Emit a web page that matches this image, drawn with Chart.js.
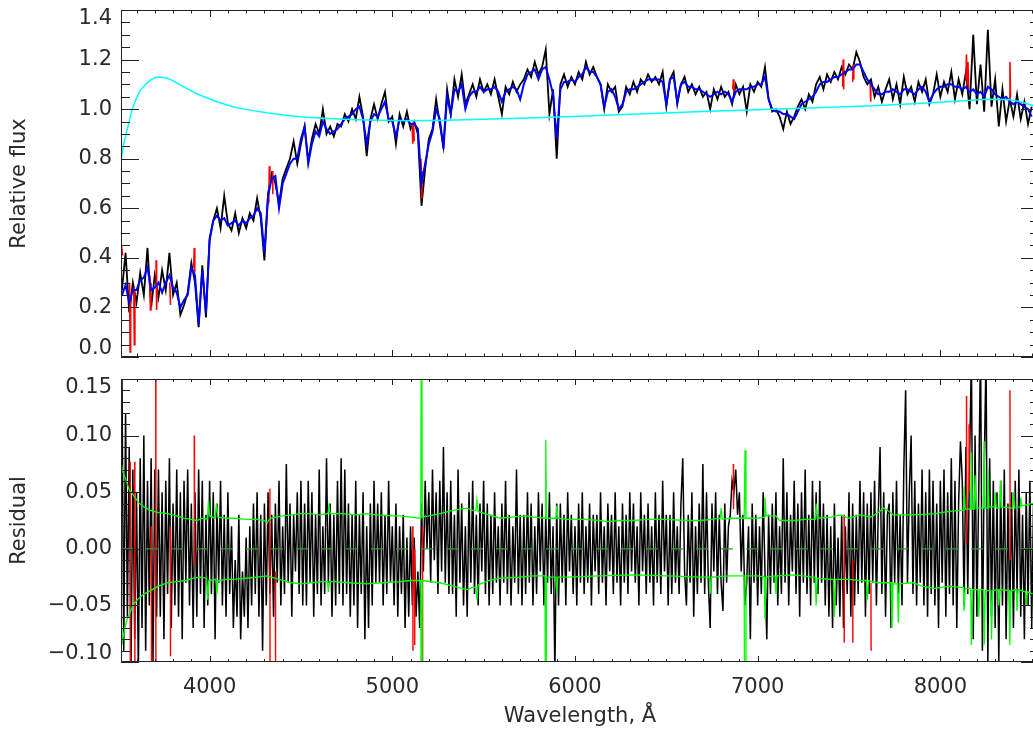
<!DOCTYPE html>
<html>
<head>
<meta charset="utf-8">
<title>Spectrum fit and residuals</title>
<script src="https://cdn.jsdelivr.net/npm/chart.js@4.4.1/dist/chart.umd.min.js"></script>
<style>
  html, body { margin: 0; padding: 0; background: #ffffff; }
  body { width: 1033px; height: 729px; overflow: hidden; position: relative; }
  .panel { position: absolute; left: 0; }
  #topPanel { top: 0; }
  #bottomPanel { top: 369px; }
</style>
</head>
<body>
<div class="panel" id="topPanel"><canvas id="fluxChart" width="1040" height="362"></canvas></div>
<div class="panel" id="bottomPanel"><canvas id="residChart" width="1040" height="360"></canvas></div>
<script>
/* ============================================
   Spectrum fit (top) and residuals (bottom)
   ============================================ */

// Sampling of the tabulated series (Angstrom)
const FLUX_START = 3520, FLUX_STEP = 20;
const RESID_START = 3520, RESID_STEP = 10;

const xRange = [3515, 8540];
const xTickValues = [4000, 5000, 6000, 7000, 8000];
const fluxRange = [0, 1.4];
const residRange = [-0.10, 0.15];

// Observed spectrum (black), every 20 A from 3520
const observedFlux = [
    0.27, 0.42, 0.18, 0.30, 0.22, 0.34, 0.25, 0.44, 0.20, 0.33,
    0.24, 0.35, 0.27, 0.42, 0.25, 0.30, 0.17, 0.21, 0.26, 0.38,
    0.30, 0.12, 0.37, 0.16, 0.48, 0.55, 0.60, 0.52, 0.65, 0.54,
    0.51, 0.58, 0.50, 0.56, 0.52, 0.58, 0.55, 0.64, 0.56, 0.39,
    0.66, 0.74, 0.70, 0.62, 0.72, 0.76, 0.80, 0.87, 0.78, 0.86,
    0.93, 0.79, 0.88, 0.94, 0.90, 1.00, 0.90, 0.93, 0.89, 0.94,
    0.93, 0.98, 0.95, 1.00, 0.96, 1.05, 0.97, 0.81, 0.96, 1.02,
    0.96, 1.02, 1.07, 0.95, 0.97, 0.86, 0.98, 0.93, 0.99, 0.92,
    0.95, 0.90, 0.61, 0.76, 0.88, 0.92, 1.04, 0.94, 0.85, 1.08,
    0.98, 1.12, 1.05, 1.14, 1.02, 1.06, 1.10, 1.05, 1.12, 1.07,
    1.10, 1.06, 1.12, 1.05, 0.98, 1.09, 1.06, 1.11, 1.07, 1.10,
    1.12, 1.16, 1.13, 1.19, 1.14, 1.17, 1.24, 0.98, 1.08, 0.80,
    1.10, 1.14, 1.09, 1.13, 1.10, 1.15, 1.12, 1.19, 1.14, 1.17,
    1.13, 1.10, 1.00, 1.10, 1.07, 1.09, 0.99, 1.01, 1.09, 1.06,
    1.11, 1.07, 1.12, 1.10, 1.14, 1.11, 1.13, 1.10, 1.15, 1.01,
    1.12, 1.15, 1.02, 1.10, 1.13, 1.07, 1.10, 1.06, 1.09, 1.05,
    1.07, 1.00, 1.08, 1.04, 1.09, 1.05, 1.07, 1.02, 1.10, 1.06,
    1.09, 0.99, 1.10, 1.07, 1.11, 1.09, 1.17, 1.04, 0.99, 1.00,
    0.97, 0.92, 0.99, 0.94, 0.97, 1.01, 1.04, 1.00, 1.06, 1.03,
    1.10, 1.13, 1.08, 1.14, 1.11, 1.15, 1.12, 1.17, 1.14, 1.18,
    1.16, 1.23, 1.19, 1.13, 1.10, 1.12, 1.05, 1.09, 1.03, 1.08,
    1.12, 1.04, 1.10, 1.02, 1.13, 1.06, 1.09, 1.03, 1.11, 1.07,
    1.12, 1.02, 1.06, 1.14, 1.05, 1.11, 1.07, 1.15, 1.04, 1.12,
    1.06, 1.15, 1.00, 1.30, 1.02, 1.18, 0.99, 1.32, 1.01, 1.12,
    0.93, 1.08, 0.95, 1.04, 0.97, 1.06, 0.96, 1.03, 0.94, 1.01
];

// Best-fit model (blue), same sampling
const modelFlux = [
    0.25, 0.29, 0.22, 0.27, 0.27, 0.31, 0.32, 0.36, 0.27, 0.28,
    0.30, 0.26, 0.30, 0.33, 0.28, 0.26, 0.20, 0.23, 0.25, 0.36,
    0.33, 0.13, 0.35, 0.18, 0.47, 0.55, 0.57, 0.55, 0.56, 0.53,
    0.54, 0.55, 0.53, 0.55, 0.54, 0.56, 0.57, 0.60, 0.58, 0.42,
    0.65, 0.72, 0.73, 0.60, 0.70, 0.74, 0.78, 0.80, 0.80, 0.88,
    0.93, 0.78, 0.86, 0.91, 0.89, 0.95, 0.92, 0.90, 0.91, 0.92,
    0.94, 0.96, 0.97, 0.98, 1.00, 1.01, 0.96, 0.86, 0.95, 0.98,
    0.97, 1.00, 1.03, 0.96, 0.95, 0.89, 0.96, 0.95, 0.96, 0.94,
    0.94, 0.92, 0.70, 0.78, 0.86, 0.91, 1.00, 0.96, 0.84, 1.05,
    0.98, 1.08, 1.07, 1.10, 1.00, 1.05, 1.07, 1.07, 1.09, 1.07,
    1.08, 1.08, 1.09, 1.07, 1.03, 1.07, 1.08, 1.09, 1.08, 1.04,
    1.10, 1.14, 1.15, 1.16, 1.12, 1.16, 1.17, 1.12, 1.06, 0.88,
    1.08, 1.11, 1.11, 1.12, 1.11, 1.13, 1.14, 1.17, 1.15, 1.15,
    1.13, 1.10, 1.01, 1.07, 1.08, 1.05, 1.00, 1.02, 1.07, 1.08,
    1.08, 1.09, 1.10, 1.11, 1.12, 1.12, 1.12, 1.12, 1.11, 1.02,
    1.12, 1.13, 1.03, 1.10, 1.11, 1.09, 1.09, 1.08, 1.08, 1.07,
    1.06, 1.05, 1.06, 1.07, 1.06, 1.07, 1.06, 1.03, 1.07, 1.08,
    1.08, 1.08, 1.09, 1.09, 1.10, 1.10, 1.13, 1.04, 1.00, 0.99,
    0.99, 0.98, 0.98, 0.97, 0.96, 0.99, 1.02, 1.03, 1.04, 1.05,
    1.07, 1.10, 1.11, 1.11, 1.12, 1.13, 1.13, 1.14, 1.15, 1.16,
    1.16, 1.18, 1.18, 1.15, 1.12, 1.10, 1.08, 1.06, 1.06, 1.07,
    1.07, 1.08, 1.07, 1.06, 1.08, 1.08, 1.07, 1.06, 1.08, 1.09,
    1.07, 1.03, 1.06, 1.08, 1.09, 1.09, 1.10, 1.10, 1.09, 1.09,
    1.08, 1.09, 1.07, 1.08, 1.06, 1.07, 1.05, 1.09, 1.08, 1.06,
    1.05, 1.04, 1.05, 1.03, 1.02, 1.03, 1.02, 1.01, 1.00, 0.97
];

// Multiplicative continuum (cyan), [wavelength, value]
const continuumCurve = [
    [3515, 0.79], [3530, 0.86], [3548, 0.915], [3575, 0.996], [3600, 1.045],
    [3621, 1.076], [3650, 1.10], [3676, 1.117], [3700, 1.127], [3721, 1.13],
    [3750, 1.128], [3785, 1.12], [3820, 1.106], [3858, 1.09], [3900, 1.074],
    [3949, 1.056], [4000, 1.042], [4040, 1.03], [4131, 1.009], [4223, 0.996],
    [4314, 0.985], [4405, 0.976], [4496, 0.969], [4600, 0.964], [4700, 0.960],
    [4861, 0.956], [5000, 0.954], [5135, 0.953], [5300, 0.955], [5500, 0.959],
    [5700, 0.963], [5955, 0.969], [6200, 0.976], [6450, 0.983], [6700, 0.990],
    [6958, 0.997], [7200, 1.003], [7400, 1.008], [7596, 1.013], [7800, 1.020],
    [8000, 1.028], [8150, 1.035], [8234, 1.039], [8300, 1.040], [8380, 1.038],
    [8440, 1.030], [8505, 1.015], [8540, 1.005]
];

// Masked (rejected) pixels of the spectrum (red), short segments
const maskedFlux = [
    [[3516, 0.46], [3524, 0.41]],
    [[3562, 0.30], [3565, 0.02], [3568, 0.24]],
    [[3585, 0.28], [3588, 0.05], [3591, 0.26]],
    [[3673, 0.33], [3676, 0.19], [3679, 0.30]],
    [[3707, 0.39], [3710, 0.19], [3713, 0.28]],
    [[3782, 0.30], [3786, 0.21]],
    [[3913, 0.36], [3916, 0.44], [3919, 0.34]],
    [[4324, 0.62], [4327, 0.77], [4330, 0.70]],
    [[4343, 0.66], [4346, 0.75]],
    [[5109, 0.94], [5112, 0.86], [5116, 0.95], [5120, 0.87]],
    [[5157, 0.80], [5161, 0.64], [5165, 0.75]],
    [[6864, 1.08], [6867, 1.12], [6870, 1.07]],
    [[7465, 1.09], [7468, 1.20], [7471, 1.08]],
    [[7520, 1.11], [7523, 1.18], [7526, 1.12]],
    [[7616, 1.10], [7619, 1.03]],
    [[8140, 1.12], [8143, 1.22], [8147, 1.10]],
    [[8151, 1.19], [8155, 1.08]],
    [[8378, 1.04], [8381, 1.19], [8384, 1.05]]
];

// Residual (black), every 10 A from 3520
const residual = [
    0.16, -0.09, 0.12, -0.06, 0.09, -0.10, 0.07, -0.08, 0.05, -0.11, 0.08, -0.07, 0.10, -0.09, 0.06, -0.05, 0.08, -0.10, 0.07, -0.06,
    0.07, -0.06, 0.05, -0.08, 0.06, -0.04, 0.08, -0.07, 0.04, -0.05, 0.07, -0.06, 0.05, -0.08, 0.06, -0.03, 0.07, -0.05, 0.04, -0.07,
    0.05, -0.06, 0.07, -0.04, 0.06, -0.07, 0.03, -0.05, 0.06, -0.04, 0.05, -0.08, 0.04, -0.03, 0.06, -0.05, 0.03, -0.06, 0.05, -0.04,
    0.02, -0.07, -0.01, -0.06, 0.03, -0.08, -0.02, -0.06, 0.01, -0.07, 0.02, -0.05, 0.04, -0.04, 0.05, -0.06, 0.03, -0.09, 0.04, -0.05,
    0.05, -0.04, 0.03, -0.06, 0.04, -0.03, 0.06, -0.05, 0.02, -0.04, 0.075, -0.03, 0.04, -0.06, 0.03, -0.02, 0.05, -0.04, 0.06, -0.05,
    0.04, -0.05, 0.06, -0.03, 0.05, -0.06, 0.03, -0.04, 0.07, -0.05, 0.02, -0.04, 0.08, -0.03, 0.04, -0.06, 0.03, -0.05, 0.06, -0.04,
    0.08, -0.05, 0.07, -0.04, 0.04, -0.06, 0.03, -0.05, 0.06, -0.07, 0.03, -0.04, 0.05, -0.08, 0.02, -0.07, 0.04, -0.05, 0.06, -0.03,
    0.04, -0.03, 0.05, -0.05, 0.03, -0.04, 0.06, -0.03, 0.02, -0.05, 0.04, -0.06, 0.02, -0.04, 0.03, -0.07, 0.01, -0.06, 0.02, -0.05,
    0.01, -0.06, -0.02, -0.07, 0.04, -0.02, 0.06, 0.00, 0.05, -0.03, 0.07, -0.01, 0.05, -0.04, 0.06, -0.02, 0.09, -0.03, 0.05, -0.04,
    0.06, -0.04, 0.03, -0.06, 0.07, -0.03, 0.04, -0.05, 0.02, -0.06, 0.05, -0.03, 0.06, -0.04, 0.03, -0.05, 0.04, -0.02, 0.06, -0.04,
    0.04, -0.05, 0.03, -0.04, 0.05, -0.03, 0.02, -0.05, 0.04, -0.03, 0.06, -0.04, 0.03, -0.05, 0.02, -0.03, 0.07, -0.04, 0.03, -0.05,
    0.03, -0.04, 0.05, -0.03, 0.04, -0.05, 0.02, -0.04, 0.05, -0.02, 0.04, -0.05, 0.03, -0.03, 0.05, -0.04, 0.02, -0.11, 0.04, -0.05,
    0.04, -0.03, 0.03, -0.05, 0.05, -0.02, 0.03, -0.04, 0.02, -0.05, 0.04, -0.03, 0.05, -0.04, 0.02, -0.03, 0.04, -0.05, 0.03, -0.02,
    0.03, -0.04, 0.05, -0.03, 0.02, -0.05, 0.04, -0.02, 0.03, -0.04, 0.05, -0.03, 0.02, -0.05, 0.04, -0.03, 0.03, -0.04, 0.05, -0.02,
    0.04, -0.03, 0.02, -0.05, 0.05, -0.02, 0.03, -0.04, 0.04, -0.03, 0.02, -0.05, 0.05, -0.03, 0.03, -0.04, 0.06, -0.02, 0.03, -0.05,
    0.03, -0.04, 0.05, -0.03, 0.02, -0.04, 0.04, 0.08, -0.02, -0.05, 0.03, -0.03, 0.05, -0.06, 0.02, -0.04, 0.04, -0.03, 0.075, -0.04,
    0.05, -0.03, -0.07, 0.04, -0.02, 0.05, -0.04, 0.03, -0.03, -0.055, 0.04, -0.03, 0.02, 0.03, 0.06, 0.05, 0.07, 0.03, 0.05, -0.02,
    0.03, -0.05, -0.03, 0.02, -0.08, 0.04, -0.03, 0.03, -0.05, 0.02, -0.04, 0.05, -0.02, -0.08, 0.03, -0.04, 0.04, -0.03, 0.05, -0.05,
    0.02, -0.04, 0.08, -0.03, 0.05, -0.05, 0.03, -0.02, 0.06, -0.04, 0.04, -0.06, 0.05, -0.03, 0.07, -0.04, 0.03, -0.05, 0.06, -0.03,
    0.05, -0.04, 0.06, -0.03, 0.04, -0.05, 0.03, -0.06, 0.02, -0.07, 0.04, -0.05, 0.01, -0.06, 0.03, -0.07, 0.02, -0.04, 0.05, -0.06,
    0.04, -0.05, 0.03, -0.04, 0.06, -0.03, 0.05, -0.06, 0.04, -0.04, 0.05, -0.03, 0.06, -0.05, 0.03, 0.09, -0.04, 0.05, -0.06, 0.03,
    0.04, -0.07, 0.05, -0.03, 0.06, -0.04, 0.03, -0.05, 0.07, 0.14, -0.03, 0.05, 0.10, -0.04, 0.06, -0.05, 0.04, -0.03, 0.07, -0.05,
    0.05, -0.06, 0.07, -0.04, 0.06, -0.05, 0.04, -0.07, 0.06, -0.03, 0.07, -0.06, 0.05, -0.04, 0.08, -0.05, 0.06, -0.07, 0.04, 0.095,
    0.06, -0.05, 0.09, -0.04, 0.08, 0.17, -0.08, 0.10, -0.06, 0.05, 0.18, -0.09, 0.07, 0.17, -0.10, 0.08, -0.06, 0.06, -0.07, 0.05,
    -0.10, 0.06, -0.05, 0.07, -0.08, 0.04, -0.06, 0.05, -0.07, 0.06, -0.04, 0.07, -0.06, 0.03, -0.08, 0.05, -0.05, 0.06, -0.07, 0.04
];

// Noise level (green), upper and lower envelopes, [wavelength, value]
const noiseUpper = [
    [3515, 0.076], [3525, 0.068], [3540, 0.062], [3560, 0.052], [3580, 0.048], [3610, 0.041],
    [3640, 0.037], [3676, 0.034], [3720, 0.032], [3770, 0.031], [3820, 0.029], [3858, 0.027],
    [3900, 0.026], [3930, 0.025], [3960, 0.027], [3988, 0.026], [3994, 0.043], [4000, 0.029],
    [4030, 0.027], [4037, 0.040], [4045, 0.028], [4100, 0.027], [4133, 0.027], [4200, 0.026],
    [4260, 0.026], [4300, 0.025], [4316, 0.023], [4330, 0.027], [4400, 0.029], [4450, 0.030],
    [4497, 0.031], [4550, 0.031], [4600, 0.030], [4648, 0.031], [4653, 0.038], [4660, 0.031],
    [4720, 0.031], [4800, 0.030], [4862, 0.031], [4920, 0.030], [5000, 0.029], [5043, 0.029],
    [5100, 0.028], [5156, 0.027], [5160, 0.30], [5164, 0.028], [5200, 0.029], [5262, 0.031],
    [5330, 0.034], [5409, 0.036], [5440, 0.034], [5458, 0.034], [5463, 0.043], [5470, 0.033],
    [5530, 0.030], [5591, 0.027], [5650, 0.028], [5737, 0.029], [5773, 0.028], [5836, 0.027],
    [5840, 0.096], [5844, 0.027], [5880, 0.027], [5896, 0.027], [5900, 0.038], [5906, 0.027],
    [5955, 0.026], [6050, 0.026], [6137, 0.025], [6173, 0.024], [6250, 0.025], [6319, 0.025],
    [6400, 0.026], [6502, 0.026], [6600, 0.025], [6685, 0.025], [6750, 0.026], [6795, 0.027],
    [6800, 0.036], [6806, 0.026], [6849, 0.027], [6926, 0.027], [6931, 0.087], [6936, 0.027],
    [7000, 0.027], [7036, 0.028], [7040, 0.045], [7046, 0.029], [7100, 0.029], [7120, 0.025],
    [7200, 0.025], [7260, 0.026], [7315, 0.026], [7320, 0.040], [7326, 0.027], [7400, 0.028],
    [7450, 0.030], [7500, 0.027], [7560, 0.030], [7620, 0.028], [7660, 0.032], [7690, 0.036],
    [7720, 0.033], [7740, 0.030], [7850, 0.030], [7970, 0.031], [8050, 0.033], [8110, 0.034],
    [8126, 0.034], [8130, 0.055], [8136, 0.035], [8166, 0.035], [8170, 0.085], [8175, 0.035],
    [8186, 0.035], [8190, 0.065], [8196, 0.036], [8236, 0.036], [8240, 0.095], [8245, 0.036],
    [8256, 0.036], [8260, 0.070], [8266, 0.037], [8296, 0.037], [8300, 0.050], [8306, 0.036],
    [8326, 0.036], [8330, 0.060], [8336, 0.037], [8396, 0.036], [8400, 0.050], [8406, 0.036],
    [8436, 0.037], [8440, 0.045], [8446, 0.038], [8505, 0.040], [8540, 0.040]
];
const noiseLower = [
    [3515, -0.070], [3520, -0.085], [3530, -0.075], [3545, -0.064], [3560, -0.058], [3580, -0.050],
    [3610, -0.044], [3640, -0.040], [3676, -0.037], [3720, -0.033], [3770, -0.030], [3820, -0.029],
    [3870, -0.028], [3912, -0.026], [3950, -0.025], [3984, -0.026], [3990, -0.045], [3996, -0.028],
    [4034, -0.027], [4040, -0.040], [4046, -0.028], [4100, -0.027], [4133, -0.027], [4200, -0.026],
    [4260, -0.025], [4316, -0.024], [4380, -0.027], [4450, -0.030], [4497, -0.031], [4560, -0.030],
    [4620, -0.029], [4645, -0.029], [4650, -0.038], [4656, -0.029], [4680, -0.029], [4760, -0.030],
    [4862, -0.031], [4950, -0.030], [5043, -0.029], [5100, -0.028], [5156, -0.028], [5160, -0.30],
    [5164, -0.028], [5262, -0.030], [5330, -0.033], [5409, -0.036], [5440, -0.034], [5458, -0.034],
    [5463, -0.045], [5470, -0.032], [5530, -0.028], [5591, -0.026], [5700, -0.025], [5773, -0.024],
    [5836, -0.024], [5840, -0.30], [5844, -0.025], [5894, -0.025], [5900, -0.040], [5906, -0.025],
    [5955, -0.025], [6137, -0.024], [6319, -0.023], [6502, -0.024], [6685, -0.025], [6735, -0.025],
    [6740, -0.040], [6746, -0.025], [6849, -0.024], [6926, -0.024], [6931, -0.30], [6936, -0.024],
    [7000, -0.024], [7036, -0.025], [7040, -0.062], [7046, -0.025], [7095, -0.024], [7100, -0.040],
    [7106, -0.024], [7200, -0.023], [7300, -0.025], [7315, -0.025], [7320, -0.050], [7326, -0.026],
    [7400, -0.027], [7415, -0.027], [7420, -0.060], [7426, -0.027], [7500, -0.027], [7560, -0.028],
    [7595, -0.028], [7600, -0.045], [7606, -0.028], [7660, -0.030], [7700, -0.030], [7730, -0.030],
    [7735, -0.070], [7741, -0.031], [7765, -0.031], [7770, -0.065], [7776, -0.031], [7850, -0.030],
    [7900, -0.033], [7970, -0.035], [8050, -0.033], [8110, -0.034], [8126, -0.034], [8130, -0.055],
    [8136, -0.035], [8166, -0.035], [8170, -0.085], [8176, -0.036], [8206, -0.036], [8210, -0.060],
    [8216, -0.036], [8236, -0.036], [8240, -0.085], [8246, -0.037], [8276, -0.037], [8280, -0.080],
    [8286, -0.037], [8316, -0.036], [8320, -0.050], [8326, -0.036], [8376, -0.037], [8380, -0.085],
    [8386, -0.037], [8416, -0.036], [8420, -0.055], [8426, -0.036], [8466, -0.038], [8470, -0.050],
    [8476, -0.038], [8505, -0.040], [8540, -0.040]
];

// Masked residual pixels (red): [wavelength, upper end, lower end]
const maskedResid = [
    [3565, 0.077, -0.12], [3590, 0.077, -0.12], [3681, 0.02, -0.12], [3705, 0.16, -0.12],
    [3785, 0.02, -0.095], [3916, 0.10, -0.015], [4330, 0.053, -0.12], [4360, -0.02, -0.10],
    [5112, 0.02, -0.09], [5122, 0.00, -0.085], [5165, 0.02, -0.12], [6867, 0.075, 0.035],
    [7473, 0.03, -0.083], [7520, -0.01, -0.083], [7620, -0.03, -0.09], [8143, 0.135, 0.005],
    [8157, 0.11, 0.05], [8381, 0.14, -0.01]
];

const zeroLine = [[3515, 0], [8540, 0]];

/* ---------- helpers turning the arrays into Chart.js points ---------- */

function gridPoints(values, start, step) {
    return values.map((v, i) => ({ x: start + i * step, y: v }));
}

function pairPoints(pairs) {
    return pairs.map(p => ({ x: p[0], y: p[1] }));
}

function segmentPoints(segments) {
    const out = [];
    segments.forEach(seg => {
        seg.forEach(p => out.push({ x: p[0], y: p[1] }));
        out.push({ x: seg[seg.length - 1][0], y: null });
    });
    return out;
}

function spikePoints(spikes) {
    const out = [];
    spikes.forEach(s => {
        out.push({ x: s[0], y: s[1] }, { x: s[0] + 1, y: s[2] }, { x: s[0] + 1, y: null });
    });
    return out;
}

// IDL style labels: edge labels pushed inside the frame
function axisLabel(value, min, max, digits) {
    let s = (Math.abs(value) < 1e-9 ? 0 : value).toFixed(digits).replace('-', '\u2212');
    if (Math.abs(value - max) < 1e-9) return ['', s];
    if (Math.abs(value - min) < 1e-9) return [s, ''];
    return s;
}

/* ---------- frame with inward ticks on all four sides ---------- */

const frameTicks = {
    id: 'frameTicks',
    afterDatasetsDraw(chart, args, o) {
        const { ctx, chartArea: a } = chart;
        const xs = chart.scales.x, ys = chart.scales.y;
        ctx.save();
        ctx.strokeStyle = '#222';
        ctx.lineWidth = 1;
        ctx.beginPath();
        ctx.rect(a.left + 0.5, a.top + 0.5, a.right - a.left - 1, a.bottom - a.top - 1);
        const firstX = Math.ceil(xs.min / o.xMinor) * o.xMinor;
        for (let w = firstX; w <= xs.max; w += o.xMinor) {
            const px = Math.round(xs.getPixelForValue(w)) + 0.5;
            const len = w % o.xMajor === 0 ? o.xLen : o.xLen / 2;
            ctx.moveTo(px, a.top); ctx.lineTo(px, a.top + len);
            ctx.moveTo(px, a.bottom); ctx.lineTo(px, a.bottom - len);
        }
        const n = Math.round((ys.max - ys.min) / o.yMinor);
        for (let i = 0; i <= n; i++) {
            const py = Math.round(ys.getPixelForValue(ys.min + i * o.yMinor)) + 0.5;
            const len = i % o.yEvery === 0 ? o.yLen : o.yLen / 2;
            ctx.moveTo(a.left, py); ctx.lineTo(a.left + len, py);
            ctx.moveTo(a.right, py); ctx.lineTo(a.right - len, py);
        }
        ctx.stroke();
        ctx.restore();
    }
};

const FONT = "'DejaVu Sans', sans-serif";
const TEXT = '#2a2a2a';

function xAxis(showLabels) {
    return {
        type: 'linear',
        min: xRange[0],
        max: xRange[1],
        display: showLabels,
        grid: { display: false, drawTicks: false },
        border: { display: false },
        afterBuildTicks(scale) {
            scale.ticks = xTickValues.map(v => ({ value: v }));
        },
        ticks: {
            autoSkip: false, maxRotation: 0,
            padding: 13, color: TEXT, font: { family: FONT, size: 21 },
            callback: v => String(v)
        },
        title: {
            display: showLabels, text: 'Wavelength, \u00c5', color: TEXT,
            font: { family: FONT, size: 21 }, padding: { top: 0, bottom: 0 }
        },
        afterFit(scale) {
            scale.height = showLabels ? 67 : 0;
            scale.paddingLeft = 0;
            scale.paddingRight = 0;
        }
    };
}

function yAxis(range, step, digits, titleText) {
    return {
        type: 'linear',
        min: range[0],
        max: range[1],
        grid: { display: false, drawTicks: false },
        border: { display: false },
        ticks: {
            stepSize: step, autoSkip: false, padding: 9, color: TEXT,
            font: { family: FONT, size: 21, lineHeight: 0.8 },
            callback: v => axisLabel(v, range[0], range[1], digits)
        },
        title: {
            display: true, text: titleText, color: TEXT,
            font: { family: FONT, size: 21 }, padding: { top: 7, bottom: 0 }
        },
        afterFit(scale) {
            scale.width = 121;
            scale.paddingTop = 0;
            scale.paddingBottom = 0;
        }
    };
}

function baseOptions(padding, ticksCfg) {
    return {
        responsive: false,
        animation: false,
        devicePixelRatio: 1,
        events: [],
        layout: { padding: padding },
        elements: { point: { radius: 0 }, line: { tension: 0 } },
        plugins: {
            legend: { display: false },
            tooltip: { enabled: false },
            frameTicks: ticksCfg
        }
    };
}

/* ---------- top panel: relative flux ---------- */

const fluxOptions = baseOptions({ top: 10, bottom: 5, left: 0, right: 1 },
    { xMinor: 100, xMajor: 1000, xLen: 7, yMinor: 0.05, yEvery: 4, yLen: 18 });
fluxOptions.scales = { x: xAxis(false), y: yAxis(fluxRange, 0.2, 1, 'Relative flux') };

new Chart(document.getElementById('fluxChart'), {
    type: 'line',
    data: {
        datasets: [
            { data: pairPoints(continuumCurve), borderColor: '#00ffff', borderWidth: 1.5, order: 0 },
            { data: gridPoints(modelFlux, FLUX_START, FLUX_STEP), borderColor: '#0000ff', borderWidth: 2, order: 1 },
            { data: segmentPoints(maskedFlux), borderColor: '#ff0000', borderWidth: 1.6, order: 2 },
            { data: gridPoints(observedFlux, FLUX_START, FLUX_STEP), borderColor: '#000000', borderWidth: 1.8, order: 3 }
        ]
    },
    options: fluxOptions,
    plugins: [frameTicks]
});

/* ---------- bottom panel: residuals ---------- */

const residOptions = baseOptions({ top: 10, bottom: 0, left: 0, right: 1 },
    { xMinor: 100, xMajor: 1000, xLen: 6, yMinor: 0.01, yEvery: 5, yLen: 18 });
residOptions.scales = { x: xAxis(true), y: yAxis(residRange, 0.05, 2, 'Residual') };

new Chart(document.getElementById('residChart'), {
    type: 'line',
    data: {
        datasets: [
            { data: pairPoints(noiseUpper), borderColor: '#00ff00', borderWidth: 1.3, order: 0 },
            { data: pairPoints(noiseLower), borderColor: '#00ff00', borderWidth: 1.3, order: 0 },
            { data: pairPoints(zeroLine), borderColor: '#2e9e2e', borderWidth: 1.2, borderDash: [12, 13], order: 1 },
            { data: spikePoints(maskedResid), borderColor: '#ff0000', borderWidth: 1.4, order: 2 },
            { data: gridPoints(residual, RESID_START, RESID_STEP), borderColor: '#000000', borderWidth: 1.5, order: 3 }
        ]
    },
    options: residOptions,
    plugins: [frameTicks]
});
</script>
</body>
</html>
